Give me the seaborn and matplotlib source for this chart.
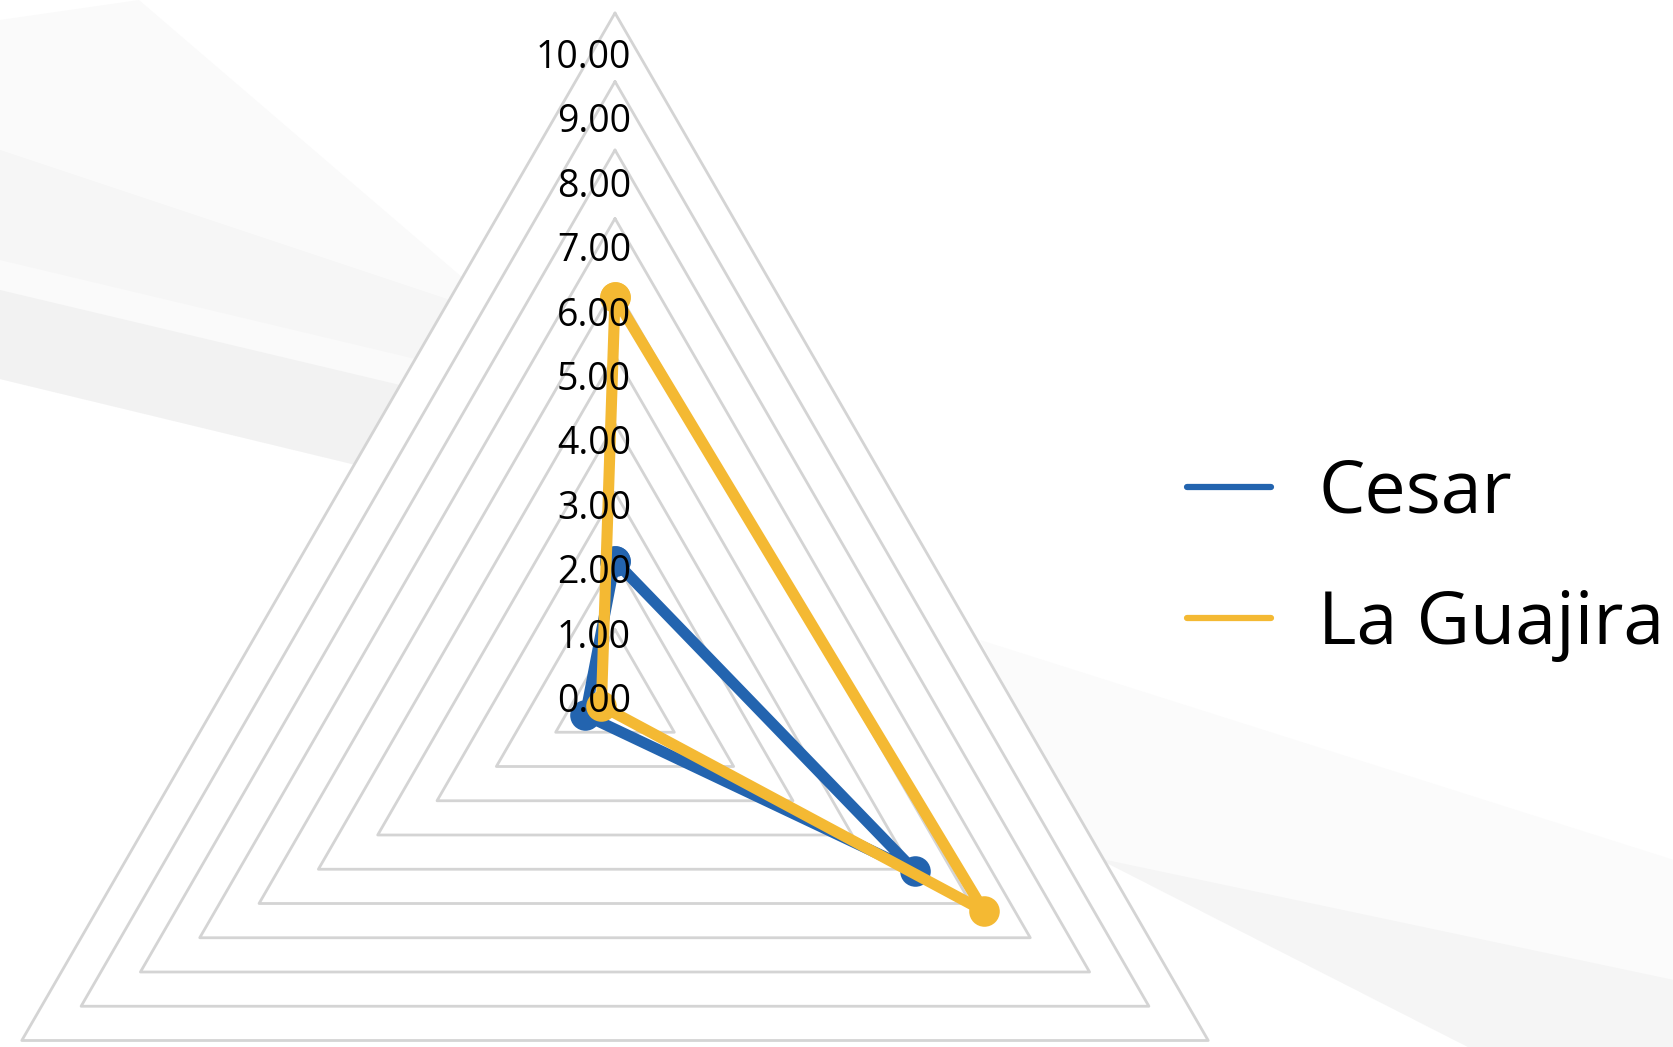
import numpy as np
import pandas as pd
import matplotlib
matplotlib.use('Agg')
import matplotlib.pyplot as plt
from matplotlib.lines import Line2D
from matplotlib.patches import Polygon
import seaborn as sns

# ========== DATA ==========
categories = ['Eje 1', 'Eje 2', 'Eje 3']
series_names = ['Cesar', 'La Guajira']
cesar = [2.00, 5.06, 0.50]
la_guajira = [5.85, 6.22, 0.23]
ring_values = list(range(0, 11))
tick_labels = [f'{v:.2f}' for v in ring_values]

colors = {'Cesar': '#2364AF', 'La Guajira': '#F4B933'}
grid_color = '#d4d4d4'

# ========== STYLE ==========
sns.set_theme(style='white')
plt.rcParams['font.family'] = ['Open Sans', 'DejaVu Sans']

W, H = 1674, 1047
unit = 68.5              # pixels per value unit
cx, cy = 615, 698        # chart centre in pixels
label_step = 64.4 / unit  # value labels sit slightly tighter than the rings

angles = np.deg2rad([90, -30, 210])


def to_xy(values):
    v = np.asarray(values, dtype=float)
    return v * np.cos(angles), v * np.sin(angles)


fig = plt.figure(figsize=(W / 100, H / 100), dpi=100)
fig.patch.set_facecolor('white')

# ---- background swooshes (pixel coordinates) ----
bg = fig.add_axes([0, 0, 1, 1], zorder=-1)
bg.set_xlim(0, W)
bg.set_ylim(H, 0)
bg.axis('off')
swooshes = [
    ([(0, 20), (139, 0), (463, 278), (356, 465), (0, 379)], '#fafafa'),
    ([(0, 150), (450, 300), (420, 360), (0, 260)], '#f6f6f6'),
    ([(0, 290), (400, 385), (356, 465), (0, 379)], '#f2f2f2'),
    ([(980, 640), (1674, 860), (1674, 1047), (1468, 1047), (1097, 858)], '#fbfbfb'),
    ([(1097, 858), (1468, 1047), (1674, 1047), (1674, 980)], '#f5f5f5'),
]
for pts, col in swooshes:
    bg.add_patch(Polygon(pts, closed=True, facecolor=col, edgecolor='none'))

# ---- main radar axes ----
ax = fig.add_axes([0, 0, 1, 1])
ax.patch.set_alpha(0)

# white plot area inside outer ring
ox, oy = to_xy([ring_values[-1]] * 3)
ax.fill(ox, oy, color='white', zorder=0.5)

# ring grid
for v in ring_values[1:]:
    gx, gy = to_xy([v] * 3)
    ax.plot(np.append(gx, gx[0]), np.append(gy, gy[0]),
            color=grid_color, lw=2.0, zorder=1)

# series
rows = []
for name, vals in zip(series_names, [cesar, la_guajira]):
    x, y = to_xy(vals)
    for i in [0, 1, 2, 0]:
        rows.append({'serie': name, 'x': x[i], 'y': y[i]})
df = pd.DataFrame(rows)

sns.lineplot(data=df, x='x', y='y', hue='serie', hue_order=series_names,
             palette=colors, estimator=None, sort=False, legend=False,
             marker='o', markersize=22, markeredgewidth=0, linewidth=8,
             solid_joinstyle='round', solid_capstyle='round', ax=ax, zorder=3)
ax.set_xlim(-cx / unit, (W - cx) / unit)
ax.set_ylim(-(H - cy) / unit, cy / unit)
ax.axis('off')

# value labels
for v, lab in zip(ring_values, tick_labels):
    ax.text((631 - cx) / unit, v * label_step - 4 / unit, lab,
            ha='right', va='center', fontsize=27, color='black', zorder=5)

# legend
handles = [Line2D([], [], color=colors[n], lw=4.5) for n in series_names]
leg = ax.legend(handles, series_names, loc='center left',
                bbox_to_anchor=(1187 / W, 1 - 559 / H), bbox_transform=fig.transFigure,
                frameon=False, fontsize=53, borderpad=0, borderaxespad=0,
                handlelength=1.14, handletextpad=0.64, labelspacing=0.78)
for t in leg.get_texts():
    t.set_color('black')
    t.set_fontweight('medium')

fig.savefig('out.png', dpi=100, facecolor='white')
